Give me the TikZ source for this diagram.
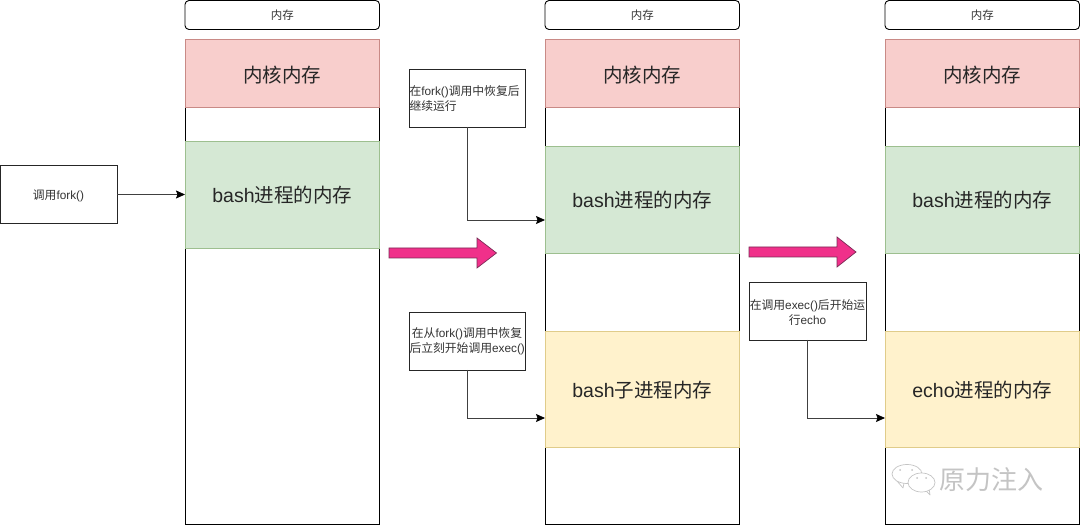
\documentclass[tikz,border=0pt]{standalone}
\usepackage{fontspec}
\setmainfont{Noto Sans CJK SC}
\newfontfamily\la{Liberation Sans}
\usetikzlibrary{arrows.meta}
\definecolor{redfill}{HTML}{F8CECC}\definecolor{redline}{HTML}{C98A86}
\definecolor{greenfill}{HTML}{D5E8D4}\definecolor{greenline}{HTML}{9DBF8F}
\definecolor{yellowfill}{HTML}{FFF2CC}\definecolor{yellowline}{HTML}{E0CC8A}
\definecolor{pinkfill}{HTML}{F0308A}\definecolor{pinkline}{HTML}{7A2A55}
\definecolor{ink}{HTML}{333333}
\definecolor{wm}{HTML}{C4C4C4}
\tikzset{
 basebox/.style={inner sep=0pt,outer sep=0pt,anchor=north west,align=center},
 titlebox/.style={basebox,draw=black,line width=.9pt,rounded corners=4pt,minimum width=194.5pt,minimum height=29pt,font=\fontsize{11.5}{13}\selectfont,text=ink},
 colbox/.style={basebox,draw=black,line width=1pt,fill=white,minimum width=194.5pt,minimum height=485.5pt},
 bandbox/.style={basebox,minimum width=194.5pt,font=\fontsize{19.5}{22}\selectfont,text=black!85,text depth=0pt},
 kernelbox/.style={bandbox,fill=redfill,draw=redline,line width=.7pt,minimum height=68pt,text height=18.5pt},
 bashbox/.style={bandbox,fill=greenfill,draw=greenline,line width=.7pt,minimum height=107pt,text height=16pt},
 childbox/.style={bandbox,fill=yellowfill,draw=yellowline,line width=.7pt,minimum height=116pt,text height=17.5pt},
 notebox/.style={basebox,draw=black!85,line width=.8pt,fill=white,minimum width=116pt,minimum height=58pt,text width=115pt,font=\fontsize{11.8}{15}\selectfont,text=ink},
 linkline/.style={draw=black!75,line width=.8pt,-{Stealth[length=9pt,width=8pt,inset=1.5pt,black]}},
 bigarrow/.style={draw=pinkline,line width=.7pt,fill=pinkfill},
 wmshape/.style={draw=wm,line width=.7pt,fill=white,line join=round}
}
\newcommand{\memtitle}{内存}
\newcommand{\kerntxt}{内核内存}
\begin{document}
\begin{tikzpicture}[x=1pt,y=-1pt]
\useasboundingbox (0,0) rectangle (1080,526);
% column 1
\node[titlebox] (t1) at (185,.5) {\memtitle};
\node[colbox] (c1) at (185,39.5) {};
\node[kernelbox] (k1) at (185,39) {\kerntxt};
\node[bashbox] (g1) at (185,141) {{\la bash}进程的内存};
% column 2
\node[titlebox] (t2) at (545,.5) {\memtitle};
\node[colbox] (c2) at (545,39.5) {};
\node[kernelbox] (k2) at (545,39) {\kerntxt};
\node[bashbox] (g2) at (545,146.5) {{\la bash}进程的内存};
\node[childbox] (y2) at (545,331) {{\la bash}子进程内存};
% column 3
\node[titlebox] (t3) at (885,.5) {\memtitle};
\node[colbox] (c3) at (885,39.5) {};
\node[kernelbox] (k3) at (885,39) {\kerntxt};
\node[bashbox] (g3) at (885,146.5) {{\la bash}进程的内存};
\node[childbox] (y3) at (885,331) {{\la echo}进程的内存};
% notes
\node[notebox,minimum width=117pt,text width=116pt] (n0) at (0,165.5) {\rule{0pt}{13pt}调用{\la fork()}};
\node[notebox,align=left] (n1) at (409,69) {\rule{0pt}{11pt}在{\la fork()}调用中恢复后\\继续运行};
\node[notebox] (n2) at (409,312) {在从{\la fork()}调用中恢复\\后立刻开始调用{\la exec()}};
\node[notebox,minimum width=117pt,text width=116pt] (n3) at (749,282) {\rule{0pt}{13pt}在调用{\la exec()}后开始运\\行{\la echo}};
% connectors
\draw[linkline] (n0.east) -- (g1.west);
\draw[linkline] (n1.south) |- ([yshift=-20pt]g2.west);
\draw[linkline] (n2.south) |- ([yshift=-29pt]y2.west);
\draw[linkline] (n3.south) |- ([yshift=-29pt]y3.west);
% big arrows
\draw[bigarrow] (389,248) -- (477,248) -- (477,238) -- (496.5,253) -- (477,268) -- (477,258) -- (389,258) -- cycle;
\draw[bigarrow] (749,247) -- (837,247) -- (837,237) -- (856,252) -- (837,267) -- (837,257) -- (749,257) -- cycle;
% watermark
\draw[wmshape] (897,481) -- (903,488) -- (904,483) -- cycle;
\draw[wmshape] (907,474) ellipse[x radius=15pt,y radius=9.5pt];
\draw[wmshape] (925,490) -- (930,495) -- (929,488) -- cycle;
\draw[wmshape] (921.5,482.5) ellipse[x radius=13.5pt,y radius=9.5pt];
\fill[wm] (900,470) circle[radius=1pt] (912,470) circle[radius=1pt] (917,478) circle[radius=1pt] (926,478) circle[radius=1pt];
\node[inner sep=0pt,anchor=west,text=wm,font=\fontsize{26}{28}\selectfont] (w) at (939,480) {原力注入};
\end{tikzpicture}
\end{document}
